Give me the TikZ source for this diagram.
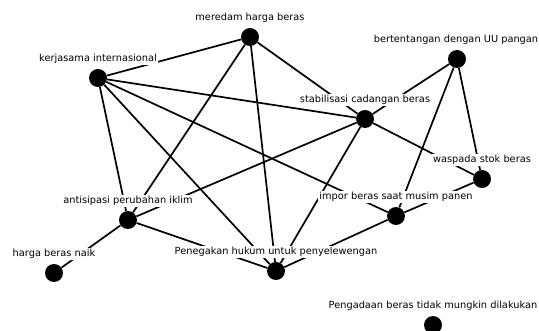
\documentclass[tikz,border=0pt]{standalone}
\usepackage{fontspec}
\setmainfont{DejaVu Sans}
\tikzset{%
  vert/.style={circle,fill=black,minimum size=18pt,inner sep=0pt},
  tag/.style={fill=white,inner sep=1pt,font=\fontsize{9.8}{12}\selectfont},
  link/.style={draw,line width=1.7pt}
}

\begin{document}
\begin{tikzpicture}[x=1pt,y=-1pt,node distance=19pt]
    \useasboundingbox (0,0) rectangle (539,331);
    \node [vert] (M) at (250,37) {};
    \node [vert] (K) at (98,78) {} edge [link] (M);
    \node [vert] (B) at (457,59) {};
    \node [vert] (S) at (365,119) {}
      edge [link] (K)
      edge [link] (M)
      edge [link] (B);
    \node [vert] (W) at (482,179) {}
      edge [link] (B)
      edge [link] (S);
    \node [vert] (I) at (396,216) {}
      edge [link] (K)
      edge [link] (B)
      edge [link] (W);
    \node [vert] (A) at (128,220) {}
      edge [link] (K)
      edge [link] (M)
      edge [link] (S);
    \node [vert] (H) at (54,273) {} edge [link] (A);
    \node [vert] (P) at (276,271) {}
      edge [link] (K)
      edge [link] (M)
      edge [link] (S)
      edge [link] (I)
      edge [link] (A);
    \node [vert] (G) at (433,325) {};

    % labels over the lines
    \node [tag] (Ml) [above of=M] {meredam harga beras};
    \node [tag] (Kl) [above of=K] {kerjasama internasional};
    \node [tag] (Bl) [above of=B, xshift=-1pt] {bertentangan dengan UU pangan};
    \node [tag] (Sl) [above of=S] {stabilisasi cadangan beras};
    \node [tag] (Wl) [above of=W] {waspada stok beras};
    \node [tag] (Il) [above of=I] {impor beras saat musim panen};
    \node [tag] (Al) [above of=A] {antisipasi perubahan iklim};
    \node [tag] (Hl) [above of=H] {harga beras naik};
    \node [tag] (Pl) [above of=P] {Penegakan hukum untuk penyelewengan};
    \node [tag] (Gl) [above of=G] {Pengadaan beras tidak mungkin dilakukan};
  \end{tikzpicture}
\end{document}
